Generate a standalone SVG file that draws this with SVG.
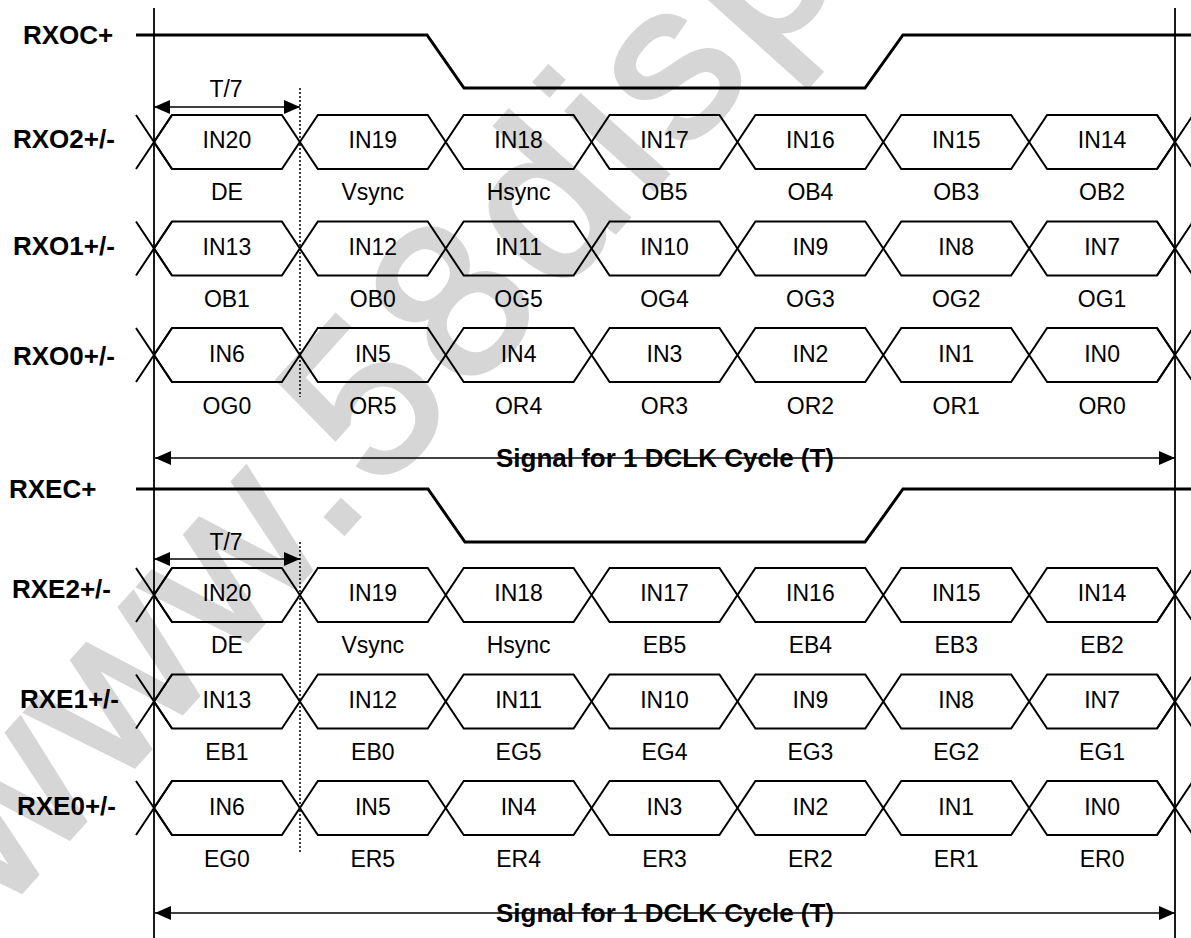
<svg xmlns="http://www.w3.org/2000/svg" width="1191" height="938" viewBox="0 0 1191 938">
<style>
.ln{fill:none;stroke:#000;stroke-width:2}
.clk{fill:none;stroke:#000;stroke-width:3}
.vl{fill:none;stroke:#000;stroke-width:1.8}
.dot{fill:none;stroke:#000;stroke-width:1.5;stroke-dasharray:2 2}
.arr{fill:none;stroke:#000;stroke-width:1.6}
.t{font-family:"Liberation Sans",Arial,sans-serif;font-size:23px;text-anchor:middle;fill:#000}
.b{font-family:"Liberation Sans",Arial,sans-serif;font-size:26px;font-weight:bold;fill:#000}
.sig{font-family:"Liberation Sans",Arial,sans-serif;font-size:26px;font-weight:bold;text-anchor:middle;fill:#000}
.wm{font-family:"Liberation Sans",Arial,sans-serif;font-size:220px;letter-spacing:10px;fill:#d6d6d6;stroke:#d6d6d6;stroke-width:5}
</style>
<defs>
<path id="hex" d="M0,0 L18,-27 L127.86,-27 L145.86,0 L127.86,27 L18,27 Z" class="ln"/>
<path id="xl" d="M-18,-27 L18,27 M-18,27 L18,-27" class="ln"/>
<marker id="ah" viewBox="0 0 16 14" refX="16" refY="7" markerWidth="16" markerHeight="14" markerUnits="userSpaceOnUse" orient="auto-start-reverse">
<path d="M0,0 L16,7 L0,14 Z" fill="#000"/>
</marker>
</defs>
<text class="wm" transform="translate(0,915) rotate(-48)">www.58display.com</text>

<g id="frame">
<line class="vl" x1="154" y1="8" x2="154" y2="938"/>
<line class="vl" x1="1175" y1="8" x2="1175" y2="938"/>
</g>

<g id="rxoc">
<text class="b" x="23" y="44">RXOC+</text>
<path class="clk" d="M136,35 L427,35 L464,88 L865,88 L903,35 L1191,35"/>
</g>

<g id="rxo2">
<text class="b" x="13" y="148">RXO2+/-</text>
<use href="#xl" x="154" y="142"/>
<use href="#hex" x="154" y="142"/><use href="#hex" x="299.86" y="142"/><use href="#hex" x="445.71" y="142"/><use href="#hex" x="591.57" y="142"/><use href="#hex" x="737.43" y="142"/><use href="#hex" x="883.29" y="142"/><use href="#hex" x="1029.14" y="142"/>
<use href="#xl" x="1175" y="142"/>
<text class="t" x="226.9" y="148">IN20</text><text class="t" x="372.8" y="148">IN19</text><text class="t" x="518.6" y="148">IN18</text><text class="t" x="664.5" y="148">IN17</text><text class="t" x="810.4" y="148">IN16</text><text class="t" x="956.2" y="148">IN15</text><text class="t" x="1102.1" y="148">IN14</text>
<text class="t" x="226.9" y="200">DE</text><text class="t" x="372.8" y="200">Vsync</text><text class="t" x="518.6" y="200">Hsync</text><text class="t" x="664.5" y="200">OB5</text><text class="t" x="810.4" y="200">OB4</text><text class="t" x="956.2" y="200">OB3</text><text class="t" x="1102.1" y="200">OB2</text>
</g>

<g id="rxo1">
<text class="b" x="13" y="255">RXO1+/-</text>
<use href="#xl" x="154" y="248.5"/>
<use href="#hex" x="154" y="248.5"/><use href="#hex" x="299.86" y="248.5"/><use href="#hex" x="445.71" y="248.5"/><use href="#hex" x="591.57" y="248.5"/><use href="#hex" x="737.43" y="248.5"/><use href="#hex" x="883.29" y="248.5"/><use href="#hex" x="1029.14" y="248.5"/>
<use href="#xl" x="1175" y="248.5"/>
<text class="t" x="226.9" y="254.5">IN13</text><text class="t" x="372.8" y="254.5">IN12</text><text class="t" x="518.6" y="254.5">IN11</text><text class="t" x="664.5" y="254.5">IN10</text><text class="t" x="810.4" y="254.5">IN9</text><text class="t" x="956.2" y="254.5">IN8</text><text class="t" x="1102.1" y="254.5">IN7</text>
<text class="t" x="226.9" y="307">OB1</text><text class="t" x="372.8" y="307">OB0</text><text class="t" x="518.6" y="307">OG5</text><text class="t" x="664.5" y="307">OG4</text><text class="t" x="810.4" y="307">OG3</text><text class="t" x="956.2" y="307">OG2</text><text class="t" x="1102.1" y="307">OG1</text>
</g>

<g id="rxo0">
<text class="b" x="13" y="365">RXO0+/-</text>
<use href="#xl" x="154" y="355"/>
<use href="#hex" x="154" y="355"/><use href="#hex" x="299.86" y="355"/><use href="#hex" x="445.71" y="355"/><use href="#hex" x="591.57" y="355"/><use href="#hex" x="737.43" y="355"/><use href="#hex" x="883.29" y="355"/><use href="#hex" x="1029.14" y="355"/>
<use href="#xl" x="1175" y="355"/>
<text class="t" x="226.9" y="362">IN6</text><text class="t" x="372.8" y="362">IN5</text><text class="t" x="518.6" y="362">IN4</text><text class="t" x="664.5" y="362">IN3</text><text class="t" x="810.4" y="362">IN2</text><text class="t" x="956.2" y="362">IN1</text><text class="t" x="1102.1" y="362">IN0</text>
<text class="t" x="226.9" y="414">OG0</text><text class="t" x="372.8" y="414">OR5</text><text class="t" x="518.6" y="414">OR4</text><text class="t" x="664.5" y="414">OR3</text><text class="t" x="810.4" y="414">OR2</text><text class="t" x="956.2" y="414">OR1</text><text class="t" x="1102.1" y="414">OR0</text>
</g>

<g id="rxec">
<text class="b" x="9" y="498">RXEC+</text>
<path class="clk" d="M136,489 L428,489 L465,542 L865,542 L903,489 L1191,489"/>
</g>

<g id="rxe2">
<text class="b" x="12" y="598">RXE2+/-</text>
<use href="#xl" x="154" y="595"/>
<use href="#hex" x="154" y="595"/><use href="#hex" x="299.86" y="595"/><use href="#hex" x="445.71" y="595"/><use href="#hex" x="591.57" y="595"/><use href="#hex" x="737.43" y="595"/><use href="#hex" x="883.29" y="595"/><use href="#hex" x="1029.14" y="595"/>
<use href="#xl" x="1175" y="595"/>
<text class="t" x="226.9" y="601">IN20</text><text class="t" x="372.8" y="601">IN19</text><text class="t" x="518.6" y="601">IN18</text><text class="t" x="664.5" y="601">IN17</text><text class="t" x="810.4" y="601">IN16</text><text class="t" x="956.2" y="601">IN15</text><text class="t" x="1102.1" y="601">IN14</text>
<text class="t" x="226.9" y="653">DE</text><text class="t" x="372.8" y="653">Vsync</text><text class="t" x="518.6" y="653">Hsync</text><text class="t" x="664.5" y="653">EB5</text><text class="t" x="810.4" y="653">EB4</text><text class="t" x="956.2" y="653">EB3</text><text class="t" x="1102.1" y="653">EB2</text>
</g>

<g id="rxe1">
<text class="b" x="20" y="708">RXE1+/-</text>
<use href="#xl" x="154" y="701.5"/>
<use href="#hex" x="154" y="701.5"/><use href="#hex" x="299.86" y="701.5"/><use href="#hex" x="445.71" y="701.5"/><use href="#hex" x="591.57" y="701.5"/><use href="#hex" x="737.43" y="701.5"/><use href="#hex" x="883.29" y="701.5"/><use href="#hex" x="1029.14" y="701.5"/>
<use href="#xl" x="1175" y="701.5"/>
<text class="t" x="226.9" y="708">IN13</text><text class="t" x="372.8" y="708">IN12</text><text class="t" x="518.6" y="708">IN11</text><text class="t" x="664.5" y="708">IN10</text><text class="t" x="810.4" y="708">IN9</text><text class="t" x="956.2" y="708">IN8</text><text class="t" x="1102.1" y="708">IN7</text>
<text class="t" x="226.9" y="760">EB1</text><text class="t" x="372.8" y="760">EB0</text><text class="t" x="518.6" y="760">EG5</text><text class="t" x="664.5" y="760">EG4</text><text class="t" x="810.4" y="760">EG3</text><text class="t" x="956.2" y="760">EG2</text><text class="t" x="1102.1" y="760">EG1</text>
</g>

<g id="rxe0">
<text class="b" x="17" y="815">RXE0+/-</text>
<use href="#xl" x="154" y="808"/>
<use href="#hex" x="154" y="808"/><use href="#hex" x="299.86" y="808"/><use href="#hex" x="445.71" y="808"/><use href="#hex" x="591.57" y="808"/><use href="#hex" x="737.43" y="808"/><use href="#hex" x="883.29" y="808"/><use href="#hex" x="1029.14" y="808"/>
<use href="#xl" x="1175" y="808"/>
<text class="t" x="226.9" y="815">IN6</text><text class="t" x="372.8" y="815">IN5</text><text class="t" x="518.6" y="815">IN4</text><text class="t" x="664.5" y="815">IN3</text><text class="t" x="810.4" y="815">IN2</text><text class="t" x="956.2" y="815">IN1</text><text class="t" x="1102.1" y="815">IN0</text>
<text class="t" x="226.9" y="867">EG0</text><text class="t" x="372.8" y="867">ER5</text><text class="t" x="518.6" y="867">ER4</text><text class="t" x="664.5" y="867">ER3</text><text class="t" x="810.4" y="867">ER2</text><text class="t" x="956.2" y="867">ER1</text><text class="t" x="1102.1" y="867">ER0</text>
</g>

<g id="connectors">
<line class="dot" x1="300" y1="88" x2="300" y2="397"/>
<line class="dot" x1="300" y1="542" x2="300" y2="852"/>
<line class="arr" x1="154" y1="107" x2="300" y2="107" marker-start="url(#ah)" marker-end="url(#ah)"/>
<line class="arr" x1="154" y1="559" x2="300" y2="559" marker-start="url(#ah)" marker-end="url(#ah)"/>
<line class="arr" x1="155" y1="458" x2="1175" y2="458" marker-start="url(#ah)" marker-end="url(#ah)"/>
<line class="arr" x1="155" y1="913" x2="1175" y2="913" marker-start="url(#ah)" marker-end="url(#ah)"/>
</g>

<g id="labels">
<text class="t" x="226" y="97">T/7</text>
<text class="t" x="226" y="550">T/7</text>
<text class="sig" x="665" y="467">Signal for 1 DCLK Cycle (T)</text>
<text class="sig" x="665" y="922">Signal for 1 DCLK Cycle (T)</text>
</g>
</svg>
